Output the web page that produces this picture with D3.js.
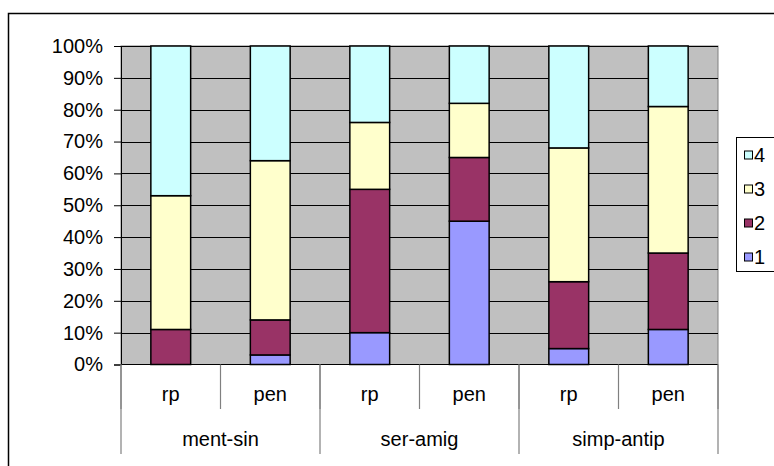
<!DOCTYPE html>
<html>
<head>
<meta charset="utf-8">
<script src="https://cdn.jsdelivr.net/npm/d3@7"></script>
<style>
  html, body { margin: 0; padding: 0; background: #fff; }
  svg { display: block; }
  text { font-family: "Liberation Sans", Arial, sans-serif; fill: #000; }
</style>
</head>
<body>
<svg id="chart" width="774" height="466"></svg>
<script>
// Groups and sub-categories along the x axis
const groups = ["ment-sin", "ser-amig", "simp-antip"];
const subs = ["rp", "pen"];
const series = ["1", "2", "3", "4"];
const colors = ["#9999FF", "#993366", "#FFFFCC", "#CCFFFF"];

// Percentage shares per bar (rp, pen for each group), one array per series
const s1 = [0, 3, 10, 45, 5, 11];
const s2 = [11, 11, 45, 20, 21, 24];
const s3 = [42, 50, 21, 17, 42, 46];
const s4 = [47, 36, 24, 18, 32, 19];
const yTicks = [0, 10, 20, 30, 40, 50, 60, 70, 80, 90, 100];

const svg = d3.select("#chart");
const W = 774, H = 466;
const plot = { left: 121, right: 718, top: 46, bottom: 364.5 };

// Outer chart frame (runs past the right and bottom edges)
svg.append("rect")
  .attr("x", 8.5).attr("y", 13.5)
  .attr("width", W + 20).attr("height", H + 20)
  .attr("fill", "#fff").attr("stroke", "#000").attr("stroke-width", 1.5);

const bars = [];
groups.forEach(g => subs.forEach(s => bars.push({ g, s, key: g + "|" + s })));
const table = bars.map((b, i) => ({ key: b.key, "1": s1[i], "2": s2[i], "3": s3[i], "4": s4[i] }));

const x = d3.scaleBand()
  .domain(bars.map(b => b.key))
  .range([plot.left, plot.right])
  .paddingInner(0.6).paddingOuter(0.3);
const y = d3.scaleLinear().domain([0, 100]).range([plot.bottom, plot.top]);

// Plot area background
svg.append("rect")
  .attr("x", plot.left).attr("y", plot.top)
  .attr("width", plot.right - plot.left).attr("height", plot.bottom - plot.top)
  .attr("fill", "#C0C0C0").attr("stroke", "#808080").attr("stroke-width", 1);

// Horizontal gridlines
svg.append("g").selectAll("line").data(yTicks.filter(t => t > 0)).join("line")
  .attr("x1", plot.left).attr("x2", plot.right)
  .attr("y1", d => Math.round(y(d)) + 0.5).attr("y2", d => Math.round(y(d)) + 0.5)
  .attr("stroke", "#000").attr("stroke-width", 1);

// Stacked bars
const stack = d3.stack().keys(series)(table);
svg.append("g").selectAll("g").data(stack).join("g")
  .attr("fill", (d, i) => colors[i])
  .selectAll("rect").data(d => d.filter(p => p[1] - p[0] > 0)).join("rect")
  .attr("x", d => x(d.data.key))
  .attr("width", x.bandwidth())
  .attr("y", d => y(d[1]))
  .attr("height", d => y(d[0]) - y(d[1]))
  .attr("stroke", "#000").attr("stroke-width", 1.5);

// Y axis
const yAxis = d3.axisLeft(y).tickValues(yTicks).tickFormat(d => d + "%").tickSize(7).tickPadding(11);
const yg = svg.append("g").attr("transform", `translate(${plot.left},0)`).call(yAxis);
yg.select(".domain").attr("stroke", "#000");
yg.selectAll(".tick line").attr("stroke", "#000");
yg.selectAll("text").attr("font-size", 20).attr("font-family", "Liberation Sans, Arial, sans-serif");

// Category axis line
svg.append("line")
  .attr("x1", plot.left).attr("x2", plot.right)
  .attr("y1", plot.bottom).attr("y2", plot.bottom)
  .attr("stroke", "#000").attr("stroke-width", 1);

// Inner separators between sub-categories
const step = x.step();
const innerEdges = bars.map(b => x(b.key) - step * 0.3).concat([plot.right]);
svg.append("g").selectAll("line").data(innerEdges).join("line")
  .attr("x1", d => d).attr("x2", d => d)
  .attr("y1", plot.bottom).attr("y2", 409)
  .attr("stroke", "#808080").attr("stroke-width", 1.2);

// Group separators
const groupEdges = groups.map(g => x(g + "|rp") - step * 0.3).concat([plot.right]);
svg.append("g").selectAll("line").data(groupEdges).join("line")
  .attr("x1", d => d).attr("x2", d => d)
  .attr("y1", plot.bottom).attr("y2", 454)
  .attr("stroke", "#808080").attr("stroke-width", 1.2);

// Sub-category labels
svg.append("g").selectAll("text").data(bars).join("text")
  .attr("x", d => x(d.key) + x.bandwidth() / 2)
  .attr("y", 401)
  .attr("text-anchor", "middle").attr("font-size", 20)
  .text(d => d.s);

// Group labels
svg.append("g").selectAll("text").data(groups).join("text")
  .attr("x", g => (x(g + "|rp") + x(g + "|pen") + x.bandwidth()) / 2)
  .attr("y", 446)
  .attr("text-anchor", "middle").attr("font-size", 20)
  .text(g => g);

// Legend (series drawn top-down in reverse order)
const legend = svg.append("g");
legend.append("rect")
  .attr("x", 736.5).attr("y", 137.5).attr("width", 60).attr("height", 134)
  .attr("fill", "#fff").attr("stroke", "#000").attr("stroke-width", 1);
const lg = legend.selectAll("g").data(series.slice().reverse()).join("g")
  .attr("transform", (d, i) => `translate(744, ${155 + i * 34})`);
lg.append("rect")
  .attr("x", 0.5).attr("y", -4).attr("width", 8).attr("height", 8)
  .attr("fill", d => colors[series.indexOf(d)])
  .attr("stroke", "#000").attr("stroke-width", 1);
lg.append("text")
  .attr("x", 10).attr("y", 7)
  .attr("font-size", 20)
  .text(d => d);
</script>
</body>
</html>
